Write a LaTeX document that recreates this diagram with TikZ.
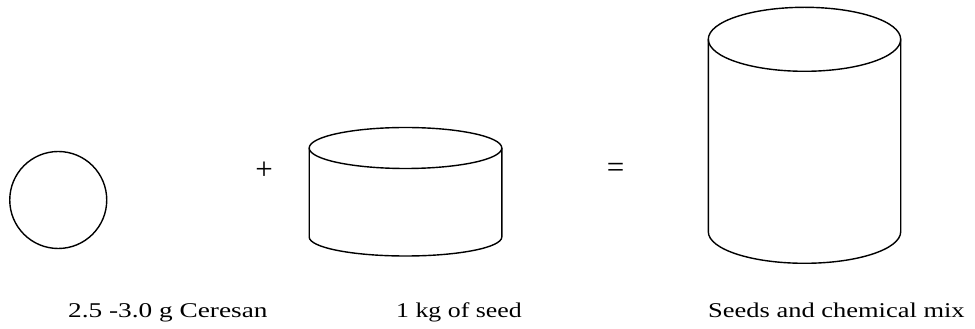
\documentclass[tikz,border=0pt]{standalone}
\usepackage{fontspec}
\setmainfont{Liberation Serif}
\begin{document}
\begin{tikzpicture}[x=1pt,y=1pt,
  outline/.style={draw=black, line width=1.4pt},
  lbl/.style={anchor=base west, inner sep=0pt, font=\fontsize{21}{25}\selectfont},
  sym/.style={inner sep=0pt, font=\fontsize{31}{34}\selectfont}]
\useasboundingbox (0,0) rectangle (975,329);
% chemical: circle
\node[outline, circle, minimum size=97pt, inner sep=0pt] (ceresan) at (58.25,129) {};
% seed cylinder
\draw[outline] (309.2,181) -- (309.2,92)
  arc[start angle=180, end angle=360, x radius=96.3, y radius=19] -- (501.8,181);
\draw[outline] (405.5,181) ellipse [x radius=96.3, y radius=20.5];
% mix cylinder
\draw[outline] (708.3,289.7) -- (708.3,97.3)
  arc[start angle=180, end angle=360, x radius=96.2, y radius=31.6] -- (900.7,289.7);
\draw[outline] (804.5,289.7) ellipse [x radius=96.2, y radius=32];
% operators
\node[sym] (plus) at (264,158) {+};
\node[sym] (equals) at (615.5,159) {=};
% labels
\node[lbl] (l1) at (68,11) {\scalebox{1.3}[1]{2.5 -3.0 g Ceresan}};
\node[lbl] (l2) at (396,11) {\scalebox{1.23}[1]{1 kg of seed}};
\node[lbl] (l3) at (708,11) {\scalebox{1.26}[1]{Seeds and chemical mix}};
\end{tikzpicture}
\end{document}
